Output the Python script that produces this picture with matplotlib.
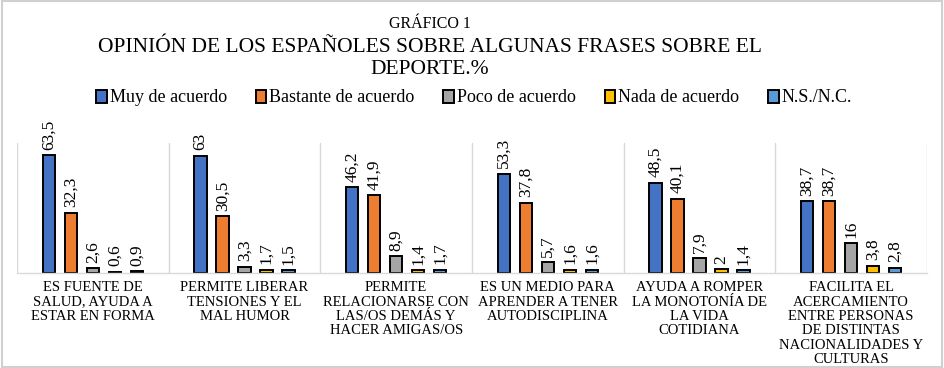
import matplotlib
matplotlib.use("Agg")
import matplotlib.pyplot as plt
import numpy as np

categories = [
    "ES FUENTE DE\nSALUD, AYUDA A\nESTAR EN FORMA",
    "PERMITE LIBERAR\nTENSIONES Y EL\nMAL HUMOR",
    "PERMITE\nRELACIONARSE CON\nLAS/OS DEMÁS Y\nHACER AMIGAS/OS",
    "ES UN MEDIO PARA\nAPRENDER A TENER\nAUTODISCIPLINA",
    "AYUDA A ROMPER\nLA MONOTONÍA DE\nLA VIDA\nCOTIDIANA",
    "FACILITA EL\nACERCAMIENTO\nENTRE PERSONAS\nDE DISTINTAS\nNACIONALIDADES Y\nCULTURAS",
]
series_names = ["Muy de acuerdo", "Bastante de acuerdo", "Poco de acuerdo",
                "Nada de acuerdo", "N.S./N.C."]
muy = [63.5, 63, 46.2, 53.3, 48.5, 38.7]
bastante = [32.3, 30.5, 41.9, 37.8, 40.1, 38.7]
poco = [2.6, 3.3, 8.9, 5.7, 7.9, 16]
nada = [0.6, 1.7, 1.4, 1.6, 2, 3.8]
nsnc = [0.9, 1.5, 1.7, 1.6, 1.4, 2.8]
series = [muy, bastante, poco, nada, nsnc]
colors = ["#4472C4", "#ED7D31", "#A5A5A5", "#FFC000", "#5B9BD5"]

plt.rcParams['font.family'] = ['Liberation Serif', 'DejaVu Serif']

fig = plt.figure(figsize=(9.44, 3.68), dpi=100)
# outer frame
fig.patches.append(plt.Rectangle((0.002, 0.003), 0.996, 0.994, transform=fig.transFigure,
                                 fill=False, edgecolor="#D0D0D0", linewidth=1.5))
ax = fig.add_axes([17/944, 1-273/368, 910/944, 130/368])

x = np.arange(len(categories))
w = 0.08
step = 0.145
for i, (vals, c, name) in enumerate(zip(series, colors, series_names)):
    pos = x + (i - 2) * step
    ax.bar(pos, vals, width=w, color=c, edgecolor="black", linewidth=1.4, label=name)
    for p, v in zip(pos, vals):
        lab = ("%g" % v).replace(".", ",")
        ax.text(p, v + 3.0, lab, rotation=90, ha="center", va="bottom", fontsize=12.5)

ax.set_xlim(-0.5, len(categories) - 0.5)
ax.set_ylim(0, 70)
ax.set_yticks([])
for b in np.arange(-0.5, len(categories), 1.0):
    ax.axvline(b, color="#D9D9D9", linewidth=1, zorder=0)
for s in ["top", "right", "left"]:
    ax.spines[s].set_visible(False)
ax.spines["bottom"].set_color("#D9D9D9")
ax.spines["bottom"].set_linewidth(1)
ax.set_xticks(x)
ax.set_xticklabels(categories, fontsize=10.5, linespacing=1.13)
ax.tick_params(axis="x", length=0, pad=6)
for t in ax.get_xticklabels():
    t.set_verticalalignment("top")

tx = 430/944
fig.text(tx, 1-24/368, "GRÁFICO 1", ha="center", va="center", fontsize=11.5)
fig.text(tx, 1-47/368, "OPINIÓN DE LOS ESPAÑOLES SOBRE ALGUNAS FRASES SOBRE EL",
         ha="center", va="center", fontsize=15.5)
fig.text(tx, 1-70/368, "DEPORTE.%", ha="center", va="center", fontsize=15.5)

handles, labels = ax.get_legend_handles_labels()
fig.legend(handles, labels, loc="center", bbox_to_anchor=(474/944, 1-98/368), ncol=5,
           frameon=False, fontsize=13, handlelength=0.6, handleheight=0.7,
           handletextpad=0.15, columnspacing=1.6)

fig.savefig("out.png", dpi=100)
